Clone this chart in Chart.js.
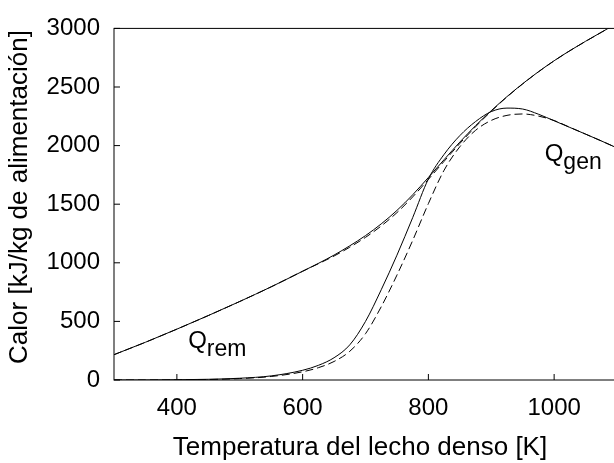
<!DOCTYPE html>
<html>
<head>
<meta charset="utf-8">
<script src="https://cdn.jsdelivr.net/npm/chart.js@4.4.1/dist/chart.umd.min.js"></script>
<style>
  html, body { margin: 0; padding: 0; background: #fff; overflow: hidden; width: 614px; height: 463px; }
  canvas { display: block; }
</style>
</head>
<body>
<canvas id="chart" width="620" height="463"></canvas>
<script>
// bed temperature [K]
const temps = [300, 350, 400, 450, 500, 550, 600, 625, 650, 675, 700, 725, 750, 775, 800,
  825, 850, 875, 900, 925, 950, 975, 1000, 1025, 1050, 1075, 1100];

// heat removed, solid and dashed cases [kJ/kg feed]
const qRemSolid = [216, 322, 434, 550, 670, 795, 928, 995, 1066, 1145, 1232, 1332, 1447, 1580, 1728,
  1880, 2030, 2170, 2298, 2418, 2528, 2630, 2724, 2810, 2890, 2967, 3043];
const qRemDashed = [216, 322, 434, 550, 670, 795, 928, 992, 1058, 1133, 1217, 1314, 1428, 1562, 1712,
  1866, 2018, 2161, 2293, 2415, 2526, 2629, 2723, 2809, 2889, 2966, 3042];

// heat generated, solid and dashed cases [kJ/kg feed]
const qGenSolid = [0, 0, 2, 6, 15, 35, 83, 125, 190, 300, 500, 770, 1065, 1385, 1715,
  1925, 2085, 2205, 2290, 2320, 2312, 2268, 2212, 2155, 2098, 2040, 1980];
const qGenDashed = [0, 0, 1, 4, 12, 30, 70, 105, 158, 245, 395, 625, 895, 1190, 1505,
  1790, 1990, 2130, 2215, 2258, 2270, 2252, 2214, 2156, 2098, 2040, 1980];

const xTicks = [400, 600, 800, 1000];
const yTicks = [0, 500, 1000, 1500, 2000, 2500, 3000];

// curve labels: [main, subscript, T, Q]
const curveLabels = [
  ["Q", "rem", 418, 272],
  ["Q", "gen", 985, 1870],
];

const FONT = "'Liberation Sans', Arial, Helvetica, sans-serif";

const toPoints = (vals) => temps.map((t, i) => ({ x: t, y: vals[i] }));

const lineStyle = (dashed) => ({
  borderColor: "#000",
  borderWidth: 1,
  borderDash: dashed ? [8, 4] : [],
  pointRadius: 0,
  fill: false,
  cubicInterpolationMode: "monotone",
});

// frame, inward ticks, axis titles and curve labels
const decorations = {
  id: "decorations",
  afterDraw(chart) {
    const { ctx, chartArea: a, scales: { x, y } } = chart;
    ctx.save();
    ctx.strokeStyle = "#000";
    ctx.lineWidth = 1;
    ctx.strokeRect(a.left, a.top, a.right - a.left, a.bottom - a.top);

    ctx.beginPath();
    xTicks.forEach((v) => {
      const px = x.getPixelForValue(v);
      ctx.moveTo(px, a.bottom);
      ctx.lineTo(px, a.bottom - 6);
    });
    yTicks.forEach((v) => {
      const py = y.getPixelForValue(v);
      ctx.moveTo(a.left, py);
      ctx.lineTo(a.left + 6, py);
    });
    ctx.stroke();

    ctx.fillStyle = "#000";
    ctx.font = "26px " + FONT;
    ctx.textAlign = "center";
    ctx.textBaseline = "alphabetic";
    ctx.fillText("Temperatura del lecho denso [K]", 360, 455);

    ctx.save();
    ctx.translate(27, 197);
    ctx.rotate(-Math.PI / 2);
    ctx.fillText("Calor [kJ/kg de alimentación]", 0, 0);
    ctx.restore();

    ctx.textAlign = "left";
    curveLabels.forEach(([main, sub, t, q]) => {
      const px = x.getPixelForValue(t);
      const py = y.getPixelForValue(q);
      ctx.font = "24px " + FONT;
      ctx.fillText(main, px, py);
      const w = ctx.measureText(main).width;
      ctx.font = "23px " + FONT;
      ctx.fillText(sub, px + w, py + 8);
    });
    ctx.restore();
  },
};

new Chart(document.getElementById("chart"), {
  type: "line",
  data: {
    datasets: [
      { data: toPoints(qRemSolid), ...lineStyle(false) },
      { data: toPoints(qRemDashed), ...lineStyle(true) },
      { data: toPoints(qGenSolid), ...lineStyle(false) },
      { data: toPoints(qGenDashed), ...lineStyle(true) },
    ],
  },
  options: {
    responsive: false,
    animation: false,
    devicePixelRatio: 1,
    layout: { padding: { top: 19, right: 3, left: 0, bottom: 0 } },
    plugins: { legend: { display: false }, tooltip: { enabled: false } },
    scales: {
      x: {
        type: "linear",
        min: 300,
        max: 1100,
        afterBuildTicks: (s) => { s.ticks = xTicks.map((v) => ({ value: v })); },
        afterFit: (s) => { s.height = 83; },
        grid: { display: false, drawTicks: false },
        border: { display: false },
        ticks: {
          autoSkip: false, maxRotation: 0, padding: 14, color: "#000",
          font: { family: FONT, size: 24 },
          callback: (v) => String(v),
        },
      },
      y: {
        min: 0,
        max: 3000,
        afterBuildTicks: (s) => { s.ticks = yTicks.map((v) => ({ value: v })); },
        afterFit: (s) => { s.width = 114; },
        grid: { display: false, drawTicks: false },
        border: { display: false },
        ticks: {
          autoSkip: false, padding: 14, color: "#000",
          font: { family: FONT, size: 24 },
          callback: (v) => String(v),
        },
      },
    },
  },
  plugins: [decorations],
});
</script>
</body>
</html>
